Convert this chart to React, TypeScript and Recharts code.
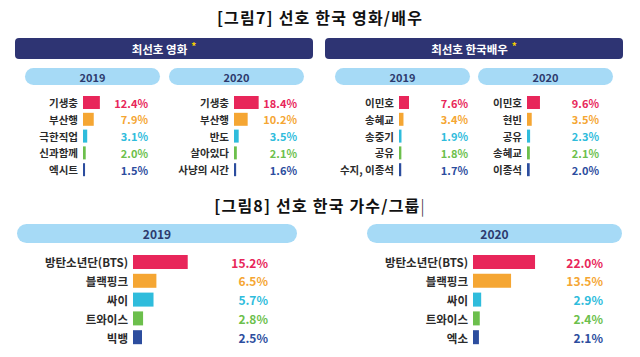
import React from "react";
import { BarChart, Bar, XAxis, YAxis, Cell, LabelList } from "recharts";

const FONT = '"Noto Sans CJK KR", "Noto Sans", sans-serif';
const RANK_COLORS = ["#e8265a", "#f5a633", "#2fbcdc", "#6cbf4c", "#2c4d9e"];

const movies2019Names = ["기생충", "부산행", "극한직업", "신과함께", "엑시트"];
const movies2019Values = [12.4, 7.9, 3.1, 2.0, 1.5];
const movies2020Names = ["기생충", "부산행", "반도", "살아있다", "사냥의 시간"];
const movies2020Values = [18.4, 10.2, 3.5, 2.1, 1.6];

const actors2019Names = ["이민호", "송혜교", "송중기", "공유", "수지, 이종석"];
const actors2019Values = [7.6, 3.4, 1.9, 1.8, 1.7];
const actors2020Names = ["이민호", "현빈", "공유", "송혜교", "이종석"];
const actors2020Values = [9.6, 3.5, 2.3, 2.1, 2.0];

const singers2019Names = ["방탄소년단(BTS)", "블랙핑크", "싸이", "트와이스", "빅뱅"];
const singers2019Values = [15.2, 6.5, 5.7, 2.8, 2.5];
const singers2020Names = ["방탄소년단(BTS)", "블랙핑크", "싸이", "트와이스", "엑소"];
const singers2020Values = [22.0, 13.5, 2.9, 2.4, 2.1];

interface RankChartProps {
  names: string[];
  values: number[];
  left: number;
  top: number;
  width: number;
  height: number;
  axisWidth: number;
  domainMax: number;
  pctRight: number;
  barSize: number;
  fontSize: number;
  pctSize: number;
}

// plain tick so long names never wrap onto two lines
function NameTick({ x, y, payload, fontSize }: any) {
  return (
    <text
      x={x}
      y={y}
      textAnchor="end"
      dominantBaseline="central"
      fill="#2b2b2b"
      fontSize={fontSize}
      fontWeight={700}
      fontFamily={FONT}
    >
      {payload.value}
    </text>
  );
}

function RankChart({
  names,
  values,
  left,
  top,
  width,
  height,
  axisWidth,
  domainMax,
  pctRight,
  barSize,
  fontSize,
  pctSize,
}: RankChartProps) {
  const rows = names.map((name, i) => ({
    name,
    value: values[i],
    pct: `${values[i].toFixed(1)}%`,
  }));

  return (
    <div style={{ position: "absolute", left, top }}>
      <BarChart
        width={width}
        height={height}
        data={rows}
        layout="vertical"
        margin={{ top: 0, right: 0, bottom: 0, left: 0 }}
      >
        <XAxis type="number" domain={[0, domainMax]} allowDataOverflow hide />
        <YAxis
          type="category"
          dataKey="name"
          width={axisWidth}
          axisLine={false}
          tickLine={false}
          tickSize={0}
          tickMargin={5}
          interval={0}
          tick={<NameTick fontSize={fontSize} />}
        />
        <Bar dataKey="value" barSize={barSize} isAnimationActive={false}>
          {rows.map((r, i) => (
            <Cell key={r.name + i} fill={RANK_COLORS[i]} />
          ))}
          <LabelList
            dataKey="pct"
            content={(p: any) => (
              <text
                x={pctRight}
                y={Number(p.y) + Number(p.height) / 2}
                textAnchor="end"
                dominantBaseline="central"
                fill={RANK_COLORS[p.index]}
                fontSize={pctSize}
                fontWeight={700}
                fontFamily={FONT}
              >
                {p.value}
              </text>
            )}
          />
        </Bar>
      </BarChart>
    </div>
  );
}

function Banner({ left, width, text }: { left: number; width: number; text: string }) {
  return (
    <div
      style={{
        position: "absolute",
        left,
        top: 38,
        width,
        height: 21,
        background: "#2e3473",
        borderRadius: 4,
        color: "#fff",
        display: "flex",
        alignItems: "center",
        justifyContent: "center",
        fontSize: 11.5,
        fontWeight: 700,
      }}
    >
      {text}
      <span style={{ color: "#f5d000", fontSize: 10, marginLeft: 4, position: "relative", top: -3 }}>*</span>
    </div>
  );
}

function Pill({ left, top, width, height, text, fontSize }: { left: number; top: number; width: number; height: number; text: string; fontSize: number }) {
  return (
    <div
      style={{
        position: "absolute",
        left,
        top,
        width,
        height,
        background: "#a6daf6",
        borderRadius: height / 2,
        color: "#2d3a6e",
        display: "flex",
        alignItems: "center",
        justifyContent: "center",
        fontSize,
        fontWeight: 700,
      }}
    >
      {text}
    </div>
  );
}

const titleStyle: React.CSSProperties = {
  position: "absolute",
  left: 0,
  width: 640,
  textAlign: "center",
  fontSize: 16,
  fontWeight: 700,
  color: "#111",
  letterSpacing: 1.2,
  lineHeight: "20px",
};

export default function App() {
  return (
    <div
      style={{
        position: "absolute",
        left: 0,
        top: 0,
        width: 640,
        height: 357,
        background: "#fff",
        overflow: "hidden",
        fontFamily: FONT,
      }}
    >
      <div style={{ ...titleStyle, top: 7 }}>[그림7] 선호 한국 영화/배우</div>

      <Banner left={15} width={298} text="최선호 영화" />
      <Banner left={325} width={298} text="최선호 한국배우" />

      <Pill left={25} top={68} width={135} height={17} text="2019" fontSize={11} />
      <Pill left={169} top={68} width={135} height={17} text="2020" fontSize={11} />
      <Pill left={335} top={68} width={135} height={17} text="2019" fontSize={11} />
      <Pill left={478} top={68} width={135} height={17} text="2020" fontSize={11} />

      <RankChart names={movies2019Names} values={movies2019Values} left={20} top={94} width={131} height={84} axisWidth={63} domainMax={50} pctRight={128} barSize={13} fontSize={10.5} pctSize={11} />
      <RankChart names={movies2020Names} values={movies2020Values} left={164} top={94} width={137} height={84} axisWidth={70} domainMax={50} pctRight={133} barSize={13} fontSize={10.5} pctSize={11} />
      <RankChart names={actors2019Names} values={actors2019Values} left={324} top={94} width={154} height={84} axisWidth={75} domainMax={60} pctRight={144} barSize={13} fontSize={10.5} pctSize={11} />
      <RankChart names={actors2020Names} values={actors2020Values} left={467} top={94} width={141} height={84} axisWidth={60} domainMax={60} pctRight={132} barSize={13} fontSize={10.5} pctSize={11} />

      <div style={{ ...titleStyle, top: 195 }}>
        [그림8] 선호 한국 가수/그룹<span style={{ fontWeight: 300 }}>|</span>
      </div>

      <Pill left={17} top={224} width={280} height={19} text="2019" fontSize={12} />
      <Pill left={367} top={224} width={255} height={19} text="2020" fontSize={12} />

      <RankChart names={singers2019Names} values={singers2019Values} left={30} top={253} width={247} height={94} axisWidth={103} domainMax={40} pctRight={238} barSize={14} fontSize={11.5} pctSize={12} />
      <RankChart names={singers2020Names} values={singers2020Values} left={373} top={253} width={241} height={94} axisWidth={100} domainMax={50} pctRight={230} barSize={14} fontSize={11.5} pctSize={12} />
    </div>
  );
}
